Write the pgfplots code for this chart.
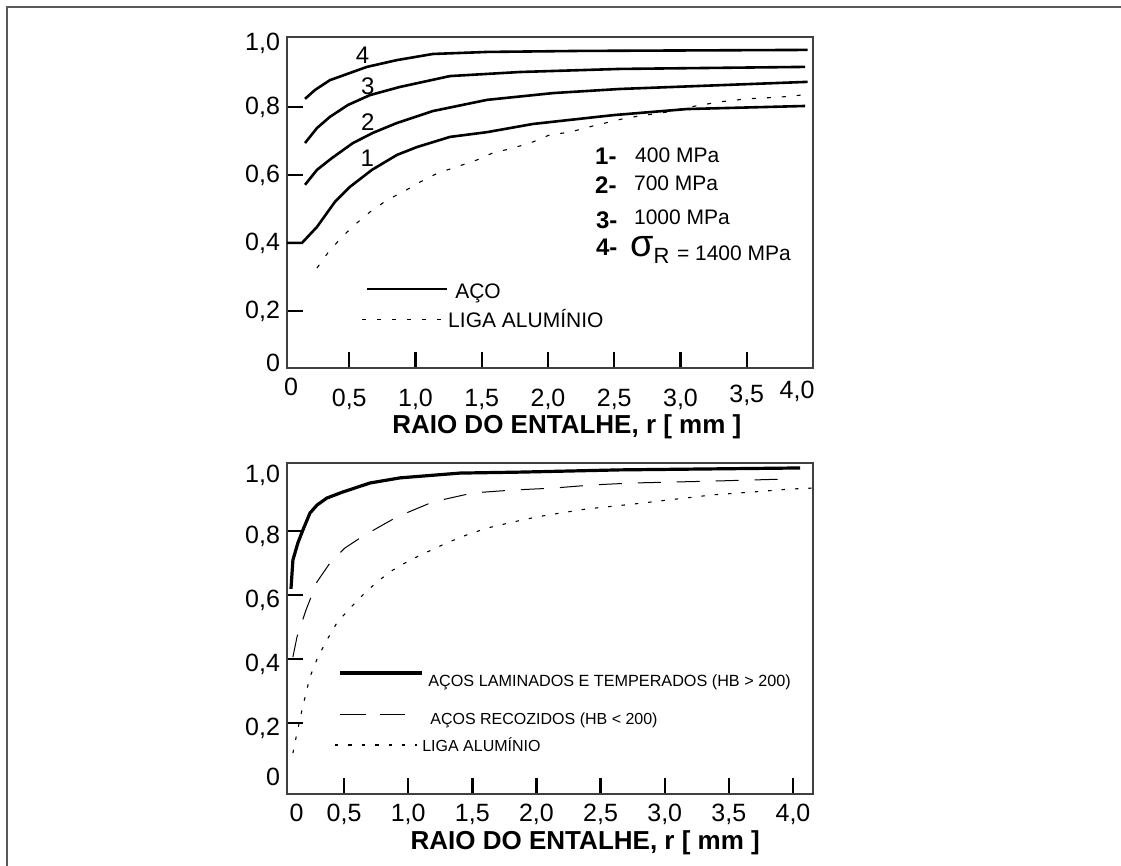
\documentclass[border=0pt]{standalone}
\usepackage{fontspec}
\setmainfont{Liberation Sans}
\usepackage{pgfplots}
\pgfplotsset{compat=1.18}
\pgfplotsset{myax/.style={
  scale only axis, width=263pt, height=165.5pt, anchor=south west,
  axis line style={line width=0.8pt, black!75},
  tick pos=left,
  tick align=inside, major tick length=8pt,
  every tick/.style={line width=1.2pt, black},
  ticklabel style={font=\fontsize{12.5}{14}\selectfont},
  /pgf/number format/assume math mode=true,
  xlabel style={font=\bfseries\fontsize{13}{15}\selectfont, anchor=center},
  extra tick style={major tick length=0pt},
  clip=false,
}}
\newcommand{\up}[2]{\raisebox{#1}[\height][\depth]{#2}}
\begin{document}
\begin{tikzpicture}
\path[use as bounding box] (0pt,0pt) rectangle (560.5pt,-433pt);
\draw[line width=1pt, black!65] (3.5pt,-433pt) -- (3.5pt,-3.3pt) -- (560.5pt,-3.3pt);

% ---------------- TOP ----------------
\begin{axis}[myax, at={(143.5pt,-184pt)},
  xmin=0.03, xmax=4.0, ymin=0.032, ymax=1.006,
  xticklabel style={yshift=-7pt},
  xtick={0.5,1,...,3.5},
  xticklabels={{0,5},{1,0},{1,5},{2,0},{2,5},{3,0},{\up{2pt}{3,5}}},
  extra x ticks={0.06,3.88},
  extra x tick labels={{\up{5.5pt}{0}},{\up{4pt}{4,0}}},
  ytick={0.2,0.4,0.6,0.8},
  yticklabels={{0,2},{0,4},{0,6},{0,8}},
  extra y ticks={0.047,0.988},
  extra y tick labels={{0},{1,0}},
  xlabel={RAIO DO ENTALHE, r [ mm ]},
  xlabel style={at={(axis description cs:0.532,-0.178)}},
]
% curve 4
\addplot[line width=1.3pt] coordinates {
(0.166,0.824)(0.241,0.850)(0.354,0.879)(0.633,0.918)(0.86,0.938)(1.13,0.956)(1.54,0.962)(2.24,0.965)(3.96,0.968)};
% curve 3
\addplot[line width=1.3pt] coordinates {
(0.166,0.694)(0.256,0.738)(0.354,0.771)(0.49,0.806)(0.656,0.835)(0.882,0.859)(1.26,0.891)(1.79,0.903)(2.54,0.912)(3.94,0.918)};
% curve 2
\addplot[line width=1.3pt] coordinates {
(0.166,0.571)(0.256,0.615)(0.37,0.65)(0.528,0.694)(0.679,0.724)(0.86,0.753)(1.13,0.788)(1.54,0.821)(2.04,0.841)(2.54,0.853)(3.96,0.874)};
% curve 1
\addplot[line width=1.3pt] coordinates {
(0.03,0.40)(0.143,0.40)(0.256,0.447)(0.392,0.521)(0.505,0.565)(0.671,0.615)(0.86,0.659)(1.01,0.682)(1.26,0.712)(1.54,0.726)(1.885,0.75)(2.49,0.776)(3.05,0.794)(3.94,0.803)};
% aluminium
\addplot[line width=0.55pt, dash pattern=on 2pt off 5.5pt] coordinates {
(0.256,0.326)(0.339,0.371)(0.445,0.418)(0.558,0.459)(0.656,0.491)(0.784,0.526)(0.905,0.55)(1.033,0.579)(1.169,0.606)(1.312,0.624)(1.463,0.644)(1.584,0.665)(1.735,0.679)(1.885,0.697)(2.013,0.718)(2.164,0.726)(2.338,0.744)(2.594,0.768)(2.896,0.785)(3.07,0.80)(3.295,0.815)(3.50,0.824)(3.75,0.829)(3.91,0.835)};
% legend samples
\addplot[line width=1.3pt, forget plot] coordinates {(0.633,0.265)(1.237,0.265)};
\addplot[line width=0.55pt, dash pattern=on 2pt off 5.5pt, forget plot] coordinates {(0.596,0.176)(1.207,0.176)};
\node[anchor=west, inner sep=0pt, font=\fontsize{10.5}{12}\selectfont] at (axis cs:1.297,0.253) {AÇO};
\node[anchor=west, inner sep=0pt, font=\fontsize{10.5}{12}\selectfont] at (axis cs:1.244,0.179) {LIGA ALUMÍNIO};
% curve numbers
\node[font=\fontsize{12}{14}\selectfont] at (axis cs:0.60,0.953) {4};
\node[font=\fontsize{12}{14}\selectfont] at (axis cs:0.64,0.862) {3};
\node[font=\fontsize{12}{14}\selectfont] at (axis cs:0.64,0.756) {2};
\node[font=\fontsize{12}{14}\selectfont] at (axis cs:0.636,0.650) {1};
% strength list
\node[anchor=west, inner sep=0pt, font=\bfseries\fontsize{12}{14}\selectfont] at (axis cs:2.353,0.656) {1-};
\node[anchor=west, inner sep=0pt, font=\fontsize{10.5}{12}\selectfont] at (axis cs:2.655,0.659) {400 MPa};
\node[anchor=west, inner sep=0pt, font=\bfseries\fontsize{12}{14}\selectfont] at (axis cs:2.353,0.571) {2-};
\node[anchor=west, inner sep=0pt, font=\fontsize{10.5}{12}\selectfont] at (axis cs:2.647,0.576) {700 MPa};
\node[anchor=west, inner sep=0pt, font=\bfseries\fontsize{12}{14}\selectfont] at (axis cs:2.36,0.468) {3-};
\node[anchor=west, inner sep=0pt, font=\fontsize{10.5}{12}\selectfont] at (axis cs:2.647,0.476) {1000 MPa};
\node[anchor=west, inner sep=0pt, font=\bfseries\fontsize{12}{14}\selectfont] at (axis cs:2.36,0.388) {4-};
\node[anchor=base west, inner sep=0pt] at (axis cs:2.617,0.359) {{\fontsize{19}{20}\selectfont σ}\raisebox{-3.5pt}{\fontsize{11}{12}\selectfont R}};
\node[anchor=west, inner sep=0pt, font=\fontsize{10.5}{12}\selectfont] at (axis cs:2.971,0.371) {= 1400 MPa};
\end{axis}

% ---------------- BOTTOM ----------------
\begin{axis}[myax, at={(143.5pt,-397pt)},
  xmin=0.055, xmax=4.156, ymin=-0.022, ymax=1.0125,
  xticklabel style={yshift=-1.5pt},
  xtick={0.5,1,...,4},
  xticklabels={{0,5},{1,0},{1,5},{2,0},{2,5},{3,0},{3,5},{4,0}},
  extra x ticks={0.13},
  extra x tick labels={{0}},
  ytick={0.2,0.4,0.6,0.8},
  yticklabels={{0,2},{0,4},{0,6},{0,8}},
  yticklabel style={yshift=-2.5pt},
  extra y ticks={0.047,0.99},
  extra y tick labels={{0},{1,0}},
  xlabel={RAIO DO ENTALHE, r [ mm ]},
  xlabel style={at={(axis description cs:0.567,-0.148)}},
]
% aços laminados e temperados
\addplot[line width=1.6pt] coordinates {
(0.086,0.619)(0.101,0.709)(0.14,0.763)(0.179,0.803)(0.234,0.856)(0.289,0.881)(0.366,0.903)(0.491,0.922)(0.702,0.95)(0.936,0.966)(1.404,0.981)(1.871,0.984)(2.651,0.991)(4.055,0.997)};
% aços recozidos
\addplot[line width=0.5pt, dash pattern=on 11.5pt off 8pt] coordinates {
(0.101,0.406)(0.133,0.469)(0.203,0.553)(0.289,0.641)(0.39,0.70)(0.507,0.747)(0.647,0.784)(0.912,0.844)(1.193,0.891)(1.505,0.919)(1.817,0.928)(2.129,0.934)(2.44,0.944)(2.752,0.95)(3.376,0.956)(4.0,0.963)};
% liga aluminio
\addplot[line width=0.55pt, dash pattern=on 1.7pt off 5pt] coordinates {
(0.101,0.106)(0.133,0.169)(0.172,0.241)(0.234,0.344)(0.296,0.406)(0.366,0.459)(0.444,0.513)(0.546,0.559)(0.647,0.60)(0.756,0.641)(0.881,0.678)(1.014,0.709)(1.146,0.734)(1.302,0.763)(1.458,0.788)(1.614,0.809)(1.817,0.828)(2.004,0.844)(2.183,0.856)(2.394,0.869)(2.752,0.884)(3.095,0.90)(3.376,0.913)(3.688,0.922)(3.977,0.931)(4.148,0.934)};
% legend samples
\addplot[line width=1.6pt, forget plot] coordinates {(0.468,0.356)(1.107,0.356)};
\addplot[line width=0.5pt, dash pattern=on 13pt off 7pt, forget plot] coordinates {(0.468,0.225)(0.975,0.225)};
\addplot[line width=0.55pt, dash pattern=on 1.7pt off 5pt, forget plot] coordinates {(0.429,0.131)(1.068,0.131)};
\node[anchor=west, inner sep=0pt, font=\fontsize{8.1}{10}\selectfont] at (axis cs:1.154,0.328) {AÇOS LAMINADOS E TEMPERADOS (HB > 200)};
\node[anchor=west, inner sep=0pt, font=\fontsize{8}{10}\selectfont] at (axis cs:1.17,0.209) {AÇOS RECOZIDOS (HB < 200)};
\node[anchor=west, inner sep=0pt, font=\fontsize{8}{10}\selectfont] at (axis cs:1.107,0.131) {LIGA ALUMÍNIO};
\end{axis}
\end{tikzpicture}
\end{document}
